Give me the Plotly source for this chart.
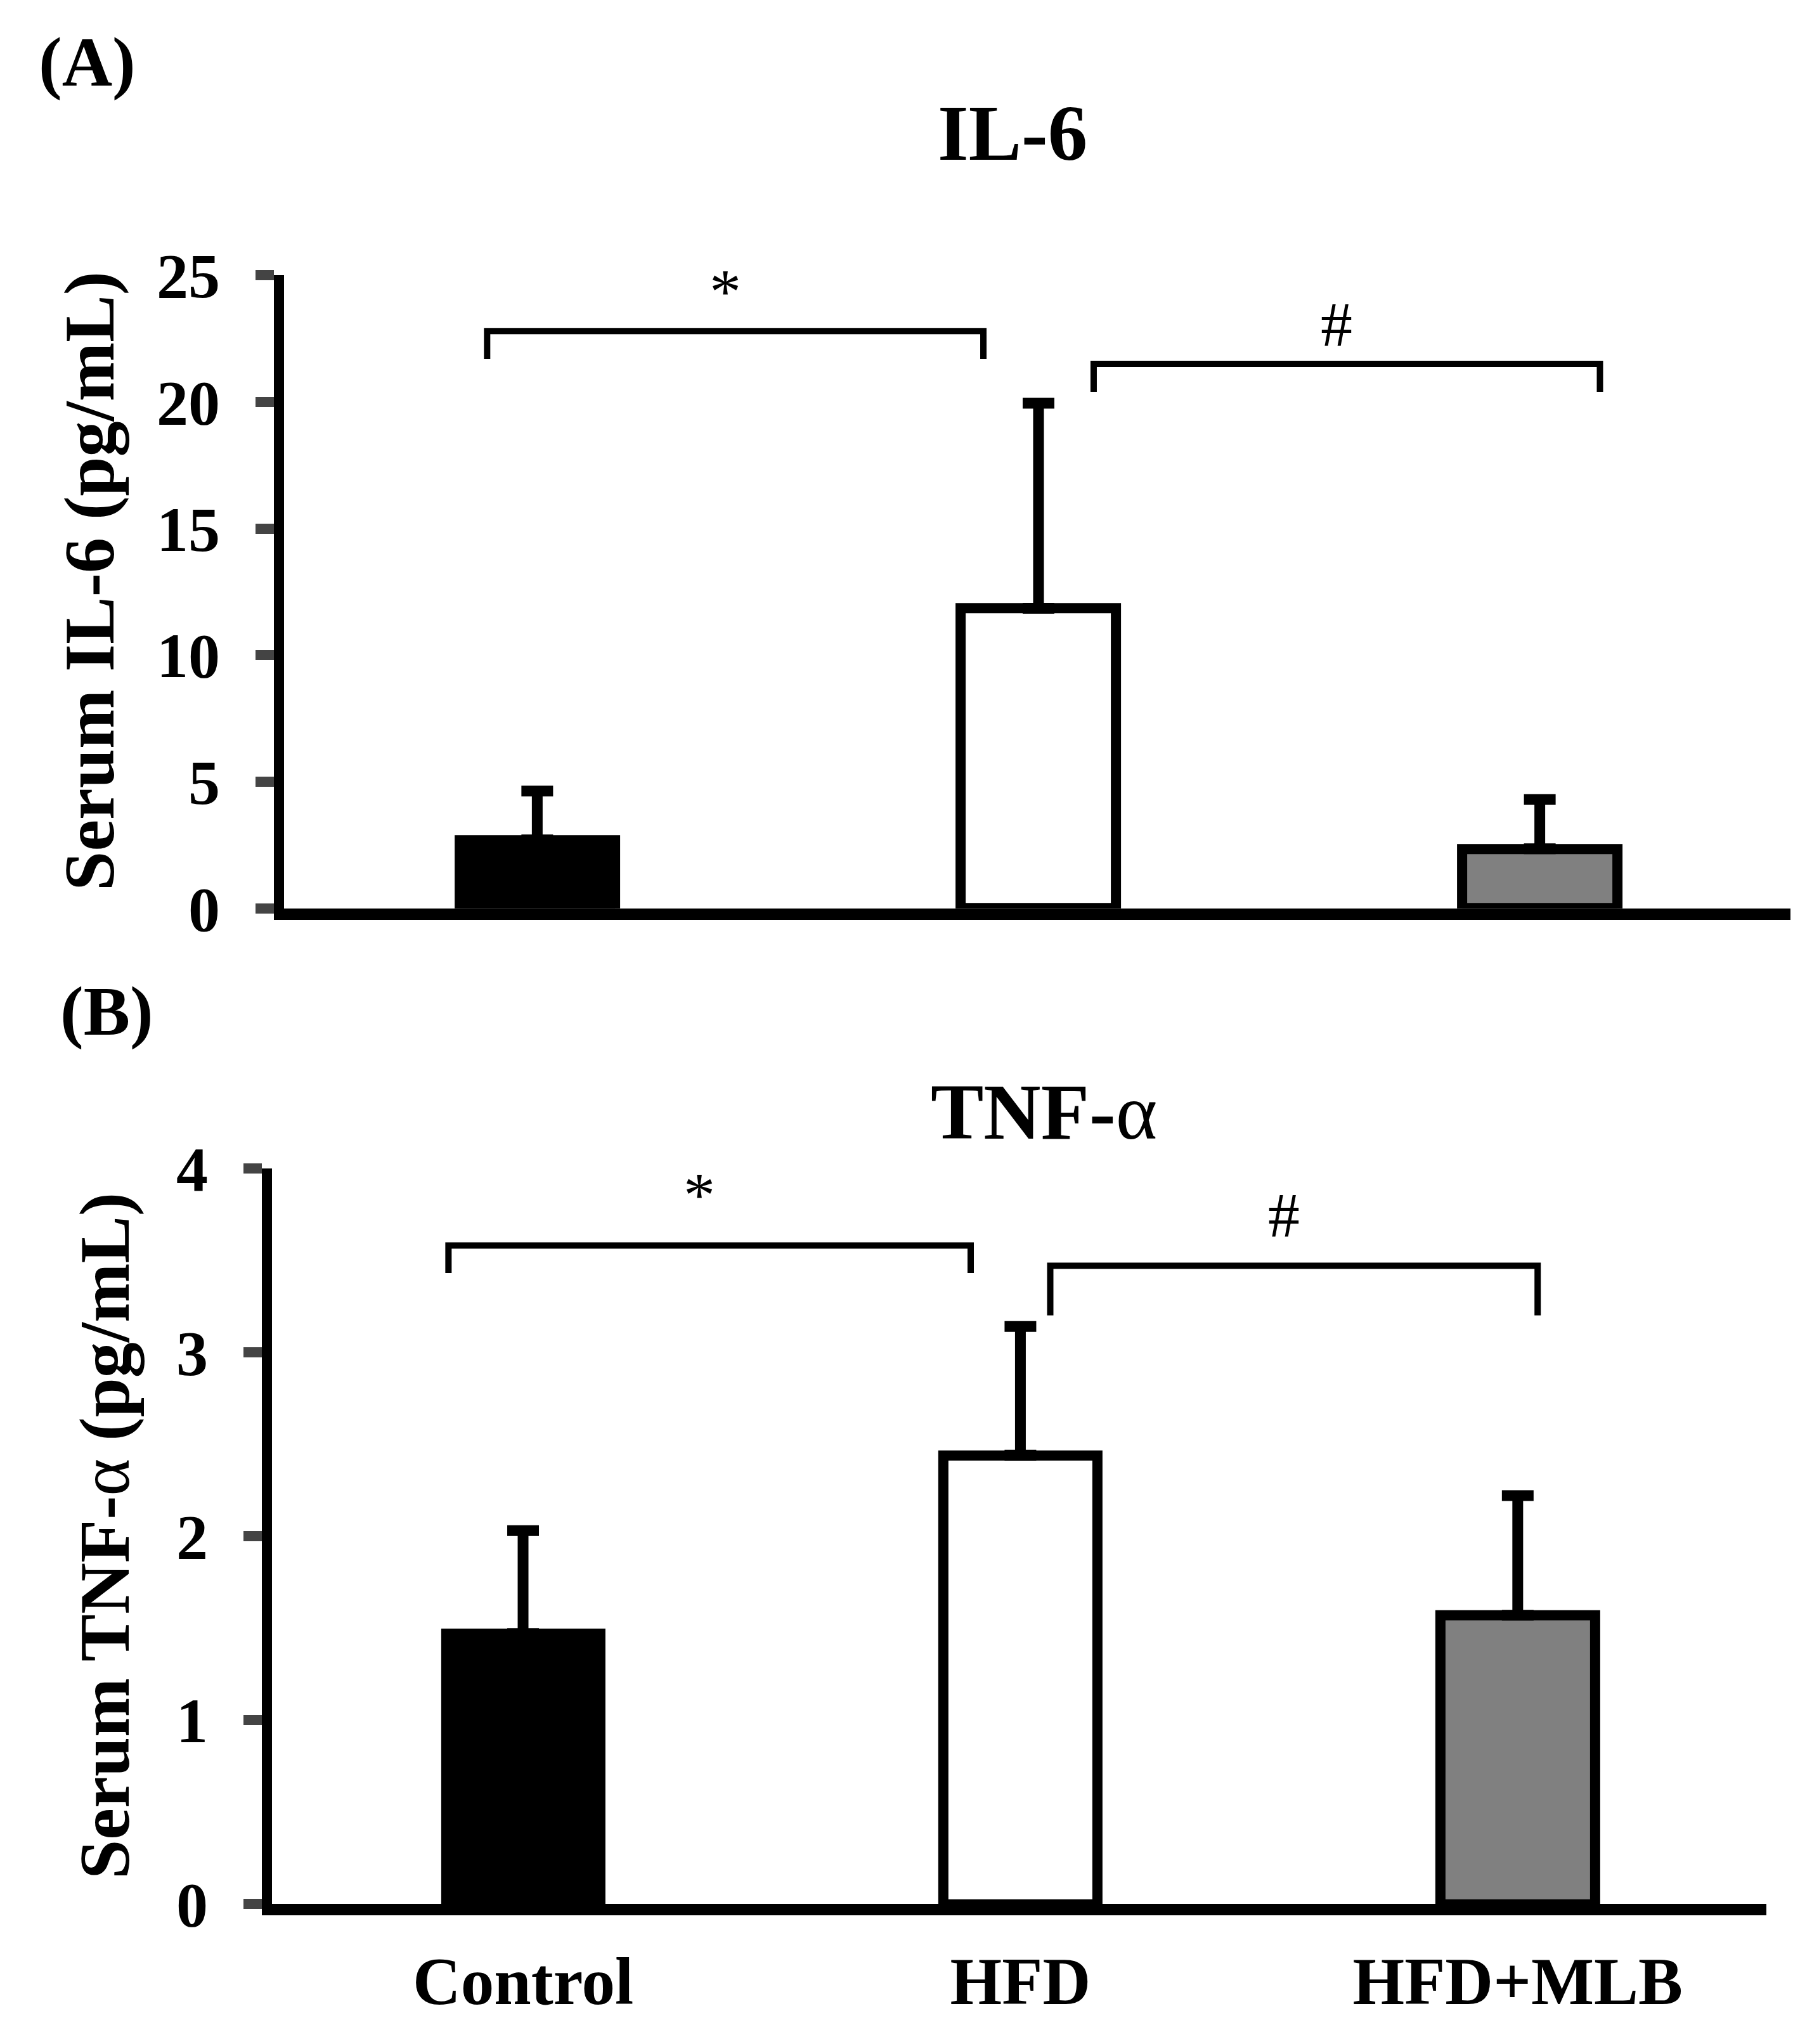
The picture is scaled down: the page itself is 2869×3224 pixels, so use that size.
import plotly.graph_objects as go

categories = ["Control", "HFD", "HFD+MLB"]
bar_colors = ["#000000", "#ffffff", "#808080"]

il6_mean = [2.7, 11.85, 2.35]
il6_err = [1.93, 8.1, 1.95]
tnf_mean = [1.47, 2.44, 1.57]
tnf_err = [0.56, 0.70, 0.65]

# significance brackets: (left, right, top, leg end, mark)
il6_sig = [(-0.1, 0.89, 22.8, 21.7, "*"), (1.11, 2.12, 21.5, 20.4, "#")]
tnf_sig = [(-0.15, 0.9, 3.58, 3.43, "*"), (1.06, 2.04, 3.47, 3.2, "#")]

serif = "Liberation Serif"
xpos = list(range(len(categories)))
alpha = "<span style='font-weight:normal'>α</span>"

fig = go.Figure()


def add_panel(means, errs, xa, ya):
    fig.add_trace(go.Bar(
        x=xpos, y=means, width=0.31,
        marker=dict(color=bar_colors, line=dict(color="black", width=16)),
        error_y=dict(type="data", array=errs, arrayminus=[0] * len(errs), symmetric=False,
                     color="black", thickness=17, width=25),
        xaxis=xa, yaxis=ya, showlegend=False, hoverinfo="skip"))


def add_brackets(sig, xa, ya, shift):
    for x0, x1, top, leg, mark in sig:
        fig.add_trace(go.Scatter(
            x=[x0, x0, x1, x1], y=[leg, top, top, leg], mode="lines",
            line=dict(color="black", width=10), xaxis=xa, yaxis=ya,
            showlegend=False, hoverinfo="skip"))
        fig.add_annotation(x=(x0 + x1) / 2 - 0.02, y=top, xref=xa, yref=ya,
                           text=mark, showarrow=False, xanchor="center", yanchor="bottom",
                           yshift=shift, font=dict(family=serif, size=100, color="black"))


add_panel(il6_mean, il6_err, "x", "y")
add_brackets(il6_sig, "x", "y", 5)
add_panel(tnf_mean, tnf_err, "x2", "y2")
add_brackets(tnf_sig, "x2", "y2", 22)

tick_font = dict(family=serif, size=100, color="black", weight="bold")
ax_common = dict(showgrid=False, zeroline=False, showline=True, linecolor="black")

fig.update_layout(
    width=2869, height=3224,
    margin=dict(l=0, r=0, t=0, b=0),
    paper_bgcolor="white", plot_bgcolor="white",
    bargap=0,
    xaxis=dict(domain=[0.1534, 0.9815], range=[-0.505, 2.5], linewidth=18,
               showticklabels=False, ticks="", anchor="y", **ax_common),
    yaxis=dict(domain=[0.5597, 0.8804], range=[0, 25], tickvals=[0, 5, 10, 15, 20, 25],
               ticks="outside", ticklen=29, tickwidth=16, linewidth=16,
               tickfont=tick_font, ticklabelstandoff=36, anchor="x", **ax_common),
    xaxis2=dict(domain=[0.1467, 0.9683], range=[-0.505, 2.5], linewidth=18,
                tickvals=xpos, ticktext=categories, ticks="",
                tickfont=dict(family=serif, size=105, color="black", weight="bold"),
                ticklabelstandoff=14, anchor="y2", **ax_common),
    yaxis2=dict(domain=[0.0552, 0.4280], range=[0, 4], tickvals=[0, 1, 2, 3, 4],
                ticks="outside", ticklen=29, tickwidth=16, linewidth=16,
                tickfont=tick_font, ticklabelstandoff=36, anchor="x2", **ax_common),
)

title_font = dict(family=serif, size=125, color="black", weight="bold")
label_font = dict(family=serif, size=110, color="black", weight="bold")
ytitle_font = dict(family=serif, size=112, color="black", weight="bold")

texts = [
    (0.554, 0.9525, "IL-6", 0, title_font),
    (0.571, 0.4566, "TNF-" + alpha, 0, title_font),
    (0.045, 0.9885, "(A)", 0, label_font),
    (0.056, 0.5075, "(B)", 0, label_font),
    (0.0467, 0.7257, "Serum IL-6 (pg/mL)", -90, ytitle_font),
    (0.0551, 0.2416, "Serum TNF-" + alpha + " (pg/mL)", -90, ytitle_font),
]
for tx, ty, txt, ang, fnt in texts:
    fig.add_annotation(x=tx, y=ty, xref="paper", yref="paper", text=txt, textangle=ang,
                       xanchor="center", yanchor="middle", showarrow=False, font=fnt)

fig.write_html("out.html")
